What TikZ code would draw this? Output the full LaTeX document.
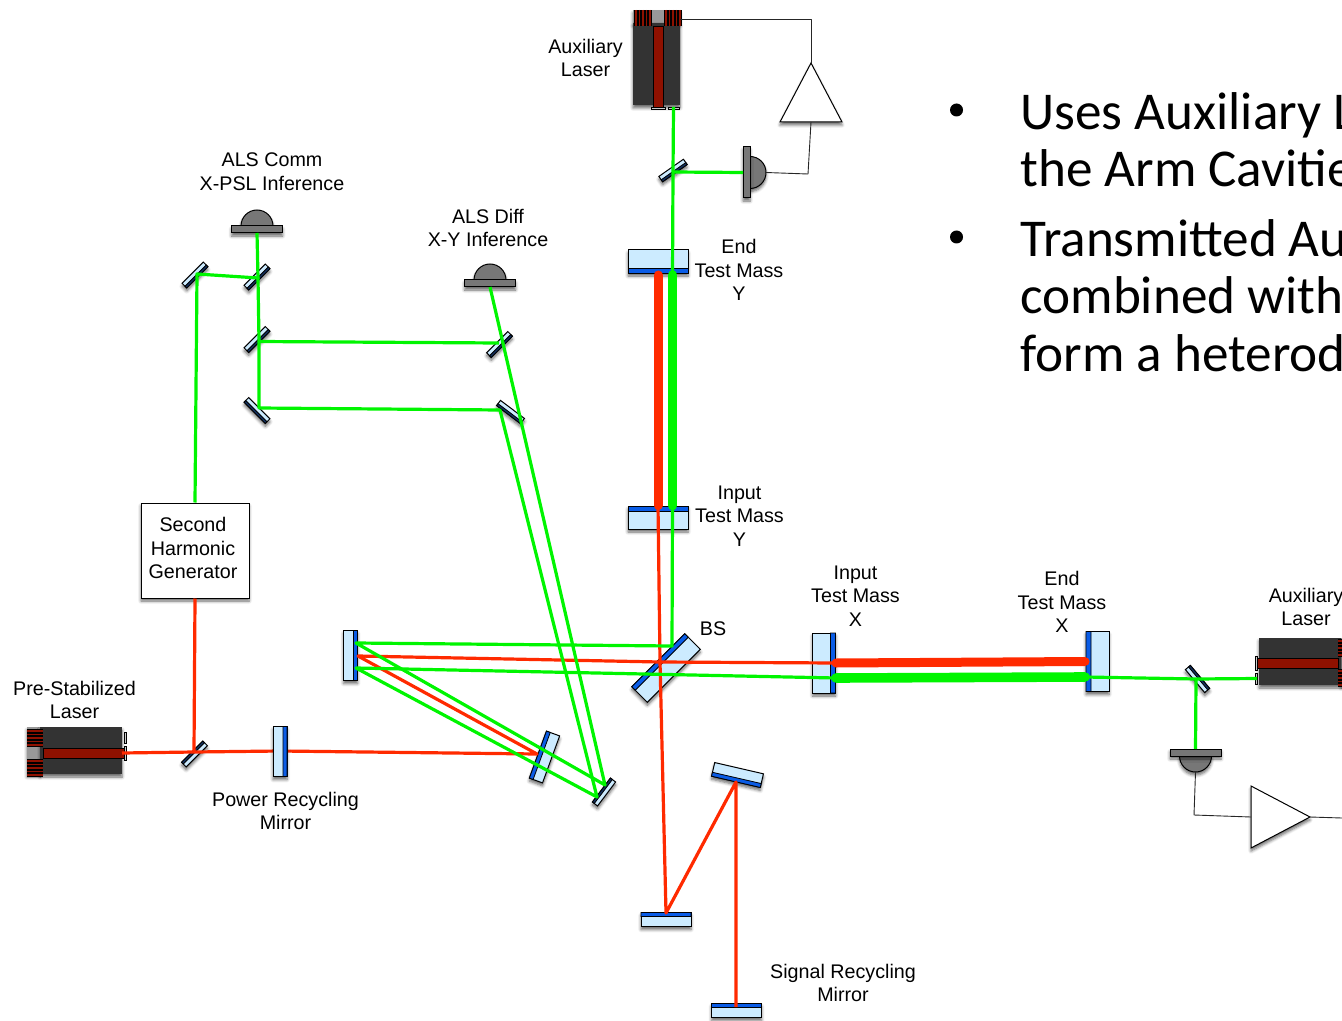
\documentclass[tikz,border=0pt]{standalone}
\usepackage{fontspec}
\setmainfont{Liberation Sans}
\newfontfamily\slidefont{Carlito}
\usepackage{tikz}
\usetikzlibrary{shapes.geometric, shadows.blur, calc}
\definecolor{glassblue}{HTML}{CCEBFF}
\definecolor{coatblue}{HTML}{0A5CE6}
\definecolor{coatnavy}{HTML}{12305F}
\definecolor{beamred}{HTML}{FF2A00}
\definecolor{beamgreen}{HTML}{00F500}
\definecolor{laserdark}{HTML}{333333}
\definecolor{laserred}{HTML}{8F1100}
\definecolor{pdgray}{HTML}{777777}
\tikzset{
  softshadow/.style={blur shadow={shadow xshift=0pt, shadow yshift=-1.5pt,
      shadow blur steps=5, shadow blur radius=1.5pt, shadow opacity=60}},
  mirror/.style={rectangle, draw=black, line width=0.5pt, fill=glassblue,
      inner sep=0pt, outer sep=0pt, softshadow},
  testmass/.style={mirror, minimum width=30pt, minimum height=11.5pt},
  splitter/.style={mirror, minimum width=37.5pt, minimum height=11pt},
  recycle/.style={mirror, minimum width=25pt, minimum height=7pt},
  pickoff/.style={mirror, minimum width=15pt, minimum height=3.25pt},
  coatline/.style={draw=black, line width=0.4pt, fill=#1},
  redbeam/.style={beamred, line width=1.6pt, line join=round},
  greenbeam/.style={beamgreen, line width=1.6pt, line join=round},
  redcavity/.style={beamred, line width=4.5pt, line cap=round},
  greencavity/.style={beamgreen, line width=4.8pt, line cap=round},
  wire/.style={black!85, line width=0.45pt, line join=round},
  amptri/.style={isosceles triangle, isosceles triangle stretches, draw=black,
      line width=0.5pt, fill=white, inner sep=0pt, outer sep=0pt, softshadow,
      minimum height=29.5pt, minimum width=31pt},
  label/.style={align=center, inner sep=0pt, font=\fontsize{9.85}{11.8}\selectfont},
  slidetext/.style={align=left, inner sep=0pt, anchor=north west,
      font=\slidefont\fontsize{26.6}{28.8}\selectfont},
  bulletmark/.style={circle, fill=black, inner sep=0pt, minimum size=6.5pt},
  pics/laser/.style={code={
      \fill[black!40, softshadow] (-95,-#1) rectangle (-82,47-#1);
      \fill[laserdark, softshadow] (-82,-#1) rectangle (0,47-#1);
      \fill[black] (-95,-24) rectangle (-79,-6);
      \fill[black] (-95,6) rectangle (-79,24);
      \foreach \finy in {-22,-18.5,-15,-11.5,-8,8,11.5,15,18.5,22}
        \draw[laserred, line width=0.9pt] (-95,\finy) -- (-79,\finy);
      \draw[black, fill=laserred, line width=0.4pt] (-79,-5) rectangle (2,5);
      \draw[black, fill=black!20, line width=0.3pt] (2,-7) rectangle (4,7);
      \draw[black, fill=black!20, line width=0.3pt] (2,-21) rectangle (4,-10);
      \coordinate (-beam) at (0,0);
      \coordinate (-port) at (2,-15.5);
      \coordinate (-side) at (-86,-#1);
  }},
  pics/photodiode/.style={code={
      \draw[black, fill=pdgray, line width=0.5pt, softshadow] (-16,0) arc[start angle=180, end angle=0, radius=8pt] -- cycle;
      \draw[black, fill=pdgray, line width=0.5pt, softshadow] (-25.5,0) rectangle (25.5,7);
      \coordinate (-in) at (0,7);
      \coordinate (-out) at (0,-16);
  }}
}
\begin{document}
\begin{tikzpicture}[x=0.5pt, y=-0.5pt]
  \clip[use as bounding box] (0,0) rectangle (1342,1021);

  \pic[rotate=-90] (auxy) at (658,105) {laser=22};
  \pic (psl) at (122,753) {laser=26};
  \pic[rotate=180] (auxx) at (1259,663) {laser=22};

  \pic (pdcomm) at (257,226) {photodiode};
  \pic (pddiff) at (490,280) {photodiode};
  \pic[rotate=-90] (pdy) at (750,172.5) {photodiode};
  \pic[rotate=180] (pdx) at (1195.5,756) {photodiode};

  \node[amptri, shape border rotate=90, anchor=apex] (ampy) at (811,63) {};
  \node[amptri, anchor=apex] (ampx) at (1310,817) {};

  \node[testmass] (etmy) at (658,261.5) {};
  \node[testmass, rotate=180] (itmy) at (658,517.5) {};
  \node[testmass, rotate=90] (itmx) at (824,663) {};
  \node[testmass, rotate=-90] (etmx) at (1097.5,661.5) {};
  \node[splitter, rotate=-135] (bs) at (666,668) {};
  \node[recycle, rotate=90] (pr2) at (350.5,655.5) {};
  \node[recycle, rotate=-110] (pr3) at (544.5,757) {};
  \node[recycle, rotate=-13] (srtop) at (737.5,775) {};
  \node[recycle, rotate=180] (srlow) at (666,919.5) {};
  \node[recycle, rotate=180] (srm) at (736.5,1010.5) {};
  \node[pickoff, rotate=35] (auxybs) at (673,170.5) {};
  \node[pickoff, rotate=130] (auxxbs) at (1197.5,679) {};
  \node[pickoff, rotate=225] (pslbs) at (194.5,754) {};
  \node[pickoff, rotate=233] (steer) at (604,792) {};
  \node[pickoff, rotate=45] (alsa) at (195,275) {};
  \node[pickoff, rotate=45] (alsb) at (257,277) {};
  \node[pickoff, rotate=45] (alsc) at (257,339.5) {};
  \node[pickoff, rotate=-45] (alsd) at (257,410.5) {};
  \node[pickoff, rotate=45] (alse) at (499.5,344.5) {};
  \node[pickoff, rotate=-37] (alsf) at (510.5,412) {};

  \foreach \mname/\mfrac in {etmy/.217, itmy/.217, itmx/.217, etmx/.217, bs/.227,
      pr2/.286, pr3/.286, srtop/.286, srlow/.286, srm/.286}
    \path[coatline=coatblue] (\mname.south west) -- (\mname.south east)
      -- ($(\mname.south east)!\mfrac!(\mname.north east)$)
      -- ($(\mname.south west)!\mfrac!(\mname.north west)$) -- cycle;
  \foreach \mname in {auxybs, auxxbs, pslbs, steer, alsa, alsb, alsc, alsd, alse, alsf}
    \path[coatline=coatnavy] (\mname.south west) -- (\mname.south east)
      -- ($(\mname.south east)!.37!(\mname.north east)$)
      -- ($(\mname.south west)!.37!(\mname.north west)$) -- cycle;

  \node[rectangle, draw=black, fill=white, line width=0.5pt, softshadow,
        minimum width=54pt, minimum height=47.5pt] (shg) at (195,550.5) {};
  \node[label] (shglabel) at (193,548) {Second\\Harmonic\\Generator};

  \coordinate (pslhit) at (194,752);
  \coordinate (prmhit) at (280,751);
  \coordinate (pr3red) at (537,754);
  \coordinate (pr2red) at (358,656);
  \coordinate (bsred) at (660,662);
  \coordinate (itmyred) at (658,505.5);
  \coordinate (etmyred) at (658,275);
  \coordinate (itmxred) at (836,663);
  \coordinate (etmxred) at (1085,661.5);
  \coordinate (srlowhit) at (666,913);
  \coordinate (srtophit) at (736,782);
  \coordinate (srmhit) at (736,1007);

  \coordinate (alsahit) at (197,274);
  \coordinate (alsbhit) at (258,278);
  \coordinate (alschit) at (259,341.5);
  \coordinate (alsdhit) at (259,408);
  \coordinate (alsehit) at (499,343);
  \coordinate (alsfhit) at (500,410);
  \coordinate (steera) at (605,785);
  \coordinate (steerb) at (597,797);
  \coordinate (pr2a) at (356,643);
  \coordinate (pr2b) at (356,668);
  \coordinate (bsgreen) at (672,646);
  \coordinate (itmygreen) at (672.5,505.5);
  \coordinate (etmygreen) at (672.5,275);
  \coordinate (itmxgreen) at (836,678);
  \coordinate (etmxgreen) at (1085,677);
  \coordinate (auxyhit) at (673,172);
  \coordinate (auxxhit) at (1196,679);

  \draw[redbeam] (psl-beam) -- (pslhit) -- (prmhit) -- (pr3red) -- (pr2red) -- (bsred) -- (itmyred);
  \draw[redbeam] (pslhit) -- (shg.south);
  \draw[redbeam] (bsred) -- (itmxred);
  \draw[redbeam] (bsred) -- (srlowhit) -- (srtophit) -- (srmhit);
  \draw[redcavity] (itmyred) -- (etmyred);
  \draw[redcavity] (itmxred) -- (etmxred);

  \draw[greenbeam] (shg.north) -- (alsahit) -- (alsbhit) -- (pdcomm-in);
  \draw[greenbeam] (alsbhit) -- (alschit) -- (alsdhit) -- (alsfhit) -- (steerb) -- (pr2b) -- (itmxgreen);
  \draw[greenbeam] (alschit) -- (alsehit);
  \draw[greenbeam] (pddiff-in) -- (steera) -- (pr2a) -- (bsgreen) -- (itmygreen);
  \draw[greenbeam] (etmygreen) -- (auxyhit) -- (auxy-port);
  \draw[greenbeam] (auxyhit) -- (pdy-in);
  \draw[greenbeam] (etmxgreen) -- (auxxhit) -- (auxx-port);
  \draw[greenbeam] (auxxhit) -- (pdx-in);
  \draw[greencavity] (itmygreen) -- (etmygreen);
  \draw[greencavity] (itmxgreen) -- (etmxgreen);

  \node[recycle, rotate=90] (prm) at (280,751.5) {};
  \path[coatline=coatblue] (prm.south west) -- (prm.south east)
    -- ($(prm.south east)!.286!(prm.north east)$)
    -- ($(prm.south west)!.286!(prm.north west)$) -- cycle;

  \coordinate (wirey) at (811,19);
  \coordinate (wirepdy) at (808,174);
  \coordinate (wirepdx) at (1194,815);
  \coordinate (wireout) at (1342,818);
  \draw[wire] (auxy-side) -- (wirey) -- (ampy.apex);
  \draw[wire] (ampy.south) -- (wirepdy) -- (pdy-out);
  \draw[wire] (pdx-out) -- (wirepdx) -- (ampx.west);
  \draw[wire] (ampx.apex) -- (wireout);

  \node[label] (auxylabel) at (585.5,58) {Auxiliary\\Laser};
  \node[label] (commlabel) at (272,172) {ALS Comm\\X-PSL Inference};
  \node[label] (difflabel) at (488,228) {ALS Diff\\X-Y Inference};
  \node[label] (etmylabel) at (739,270) {End\\Test Mass\\Y};
  \node[label] (itmylabel) at (739.5,516) {Input\\Test Mass\\Y};
  \node[label] (bslabel) at (713,629) {BS};
  \node[label] (itmxlabel) at (855.5,596) {Input\\Test Mass\\X};
  \node[label] (etmxlabel) at (1062,602) {End\\Test Mass\\X};
  \node[label] (auxxlabel) at (1306,607) {Auxiliary\\Laser};
  \node[label] (psllabel) at (74.5,700) {Pre-Stabilized\\Laser};
  \node[label] (prmlabel) at (285.5,811) {Power Recycling\\Mirror};
  \node[label] (srmlabel) at (843,983) {Signal Recycling\\Mirror};

  \node[bulletmark] (bulleta) at (956.5,110) {};
  \node[bulletmark] (bulletb) at (956.5,237) {};
  \node[slidetext] (usestext) at (1020,92) {Uses Auxiliary L\\the Arm Cavitie};
  \node[slidetext] (transtext) at (1020,219) {Transmitted Au\\combined with\\form a heterod};
\end{tikzpicture}
\end{document}
